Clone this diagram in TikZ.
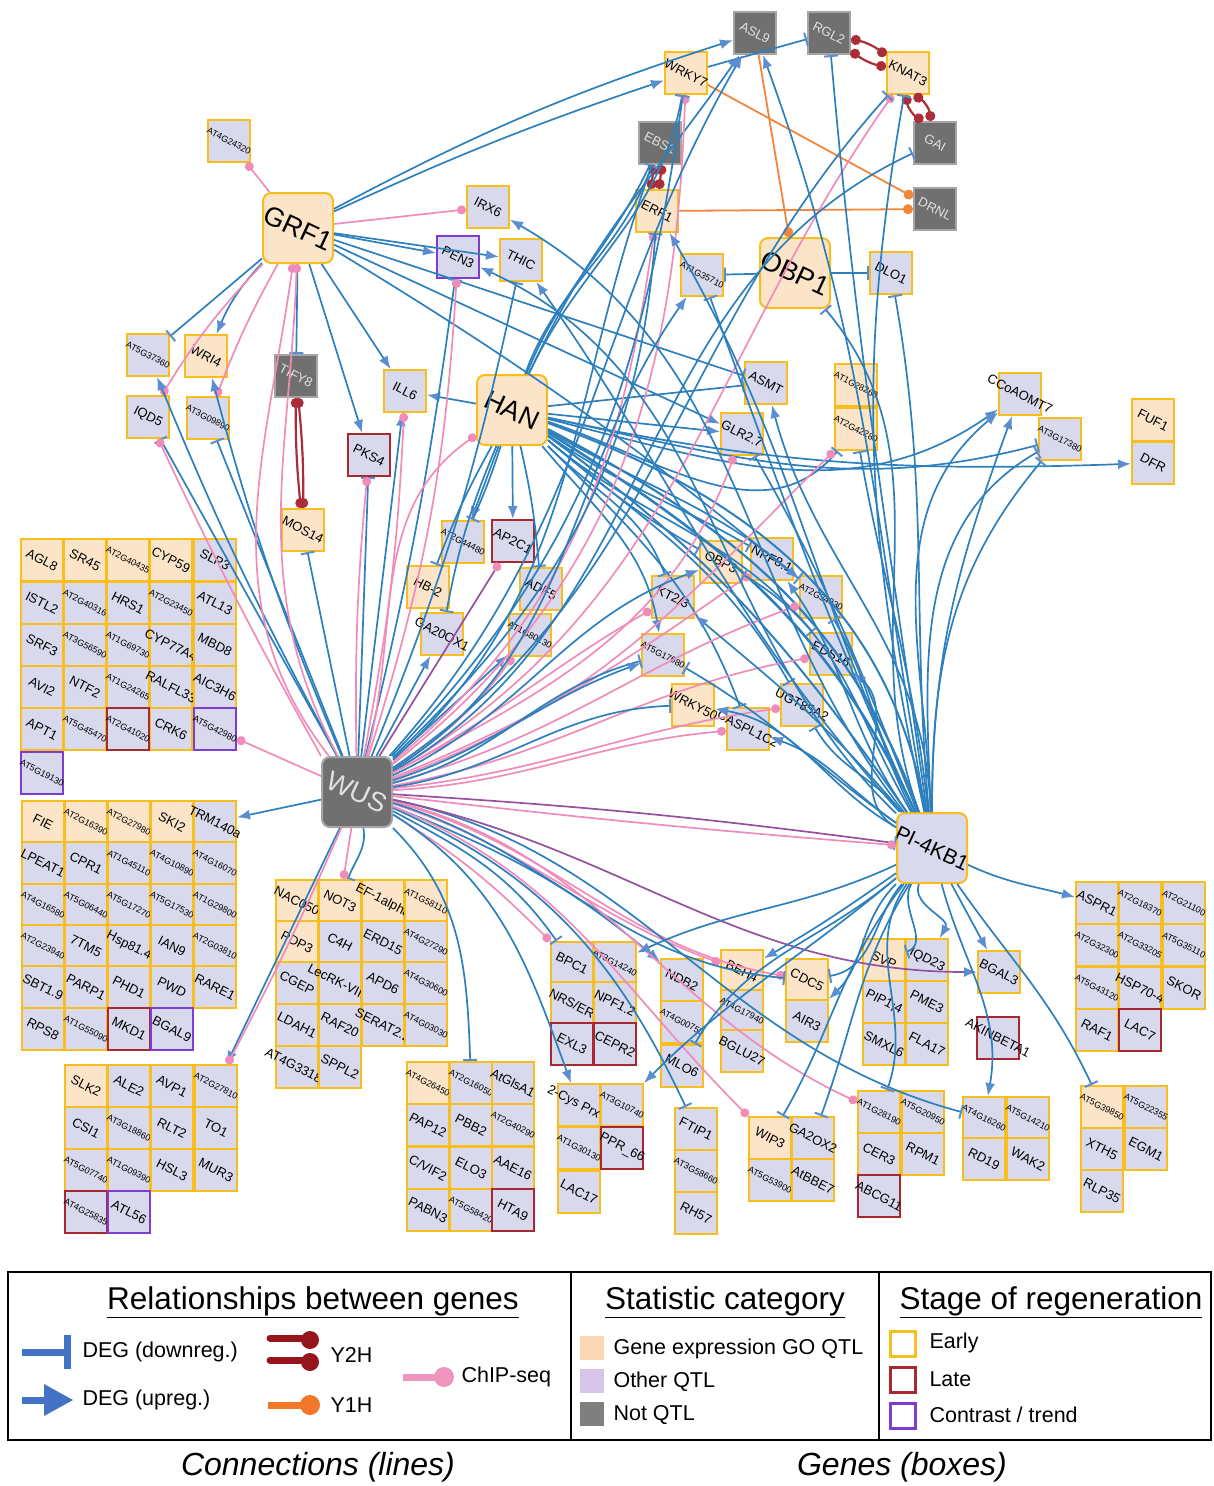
\documentclass[tikz,border=0pt]{standalone}
\usepackage{fontspec}
\setmainfont{Liberation Sans}
\usetikzlibrary{arrows.meta}
\definecolor{pch}{RGB}{252,228,200}
\definecolor{lav}{RGB}{216,217,236}
\definecolor{gld}{RGB}{248,190,30}
\definecolor{rdb}{RGB}{168,40,50}
\definecolor{vio}{RGB}{125,60,210}
\definecolor{gyf}{RGB}{112,112,112}
\definecolor{gyb}{RGB}{165,165,165}
\definecolor{gyt}{RGB}{225,225,225}
\definecolor{ebl}{RGB}{45,128,188}
\definecolor{abl}{RGB}{90,142,208}
\definecolor{pnk}{RGB}{240,140,185}
\definecolor{y2c}{RGB}{170,45,55}
\definecolor{y1c}{RGB}{242,135,60}
\definecolor{prp}{RGB}{150,80,160}
\definecolor{lgbl}{RGB}{68,114,196}
\definecolor{lgrd}{RGB}{150,20,28}
\definecolor{lgor}{RGB}{240,120,40}
\definecolor{lgpk}{RGB}{240,150,190}
\definecolor{lgpc}{RGB}{250,215,180}
\definecolor{lglv}{RGB}{213,197,234}
\definecolor{lggy}{RGB}{127,127,127}
\tikzset{
  gbox/.style={draw=gld, line width=2pt, minimum size=42pt, inner sep=0pt},
  lv/.style={gbox, fill=lav},
  pc/.style={gbox, fill=pch},
  gy/.style={gbox, fill=gyf, draw=gyb},
  lvr/.style={lv, draw=rdb},
  lvv/.style={lv, draw=vio},
  bignode/.style={draw=gld, line width=2pt, minimum size=70pt, rounded corners=8pt, inner sep=0pt},
  nm/.style={rotate=-27, font=\fontsize{13}{13}\selectfont, inner sep=0pt},
  atc/.style={rotate=-27, font=\fontsize{9}{9}\selectfont, inner sep=0pt},
  bigt/.style={rotate=-25, font=\fontsize{27}{27}\selectfont, inner sep=0pt},
  eb/.style={line width=1.7pt, draw=ebl},
  eup/.style={eb, -{Latex[length=13pt,width=10pt,color=abl]}},
  edn/.style={eb, -{Bar[width=14pt,line width=2pt,color=abl]}},
  echip/.style={line width=1.7pt, draw=pnk, -{Circle[length=9pt]}},
  eprp/.style={line width=1.7pt, draw=prp, -{Circle[length=9pt,color=pnk]}},
  ey2h/.style={line width=2.2pt, draw=y2c, {Circle[length=10pt]}-{Circle[length=10pt]}},
  ey1h/.style={line width=1.8pt, draw=y1c, -{Circle[length=10pt]}},
  lgt/.style={anchor=west, font=\fontsize{21.5}{21.5}\selectfont},
  lgh/.style={font=\fontsize{31.5}{31.5}\selectfont},
}
\newcommand\gn[5]{\node[#4] (#1) at (#2,#3) {}; \node[nm] at (#1) {#5};}
\newcommand\ga[5]{\node[#4] (#1) at (#2,#3) {}; \node[atc] at (#1) {#5};}
\newcommand\gw[4]{\node[gy] (#1) at (#2,#3) {}; \node[nm,text=gyt] at (#1) {#4};}
\begin{document}
\begin{tikzpicture}[x=1pt,y=-1pt]
\useasboundingbox (0,0) rectangle (1213,1486);
% ---------- big nodes
\node[bignode, fill=pch] (GRF1) at (298,228) {}; \node[bigt] at (GRF1) {GRF1};
\node[bignode, fill=pch] (OBP1) at (795,273) {}; \node[bigt] at (OBP1) {OBP1};
\node[bignode, fill=pch] (HAN) at (512,410) {}; \node[bigt] at (HAN) {HAN};
\node[bignode, fill=gyf, draw=gyb] (WUS) at (357,792) {}; \node[bigt,text=gyt] at (WUS) {WUS};
\node[bignode, fill=lav] (PI4KB1) at (932,848) {}; \node[bigt,font=\fontsize{21}{21}\selectfont] at (PI4KB1) {PI-4KB1};
% ---------- single nodes
\ga{AT4G24320}{229}{141}{lv}{AT4G24320}
\gw{ASL9}{755}{33}{ASL9}
\gw{RGL2}{829}{33}{RGL2}
\gn{WRKY7}{686}{73}{pc}{WRKY7}
\gn{KNAT3}{908}{73}{pc}{KNAT3}
\gw{EBS1}{660}{143}{EBS1}
\gw{GAI}{935}{143}{GAI}
\gn{ERF1}{657}{211}{pc}{ERF1}
\gw{DRNL}{935}{209}{DRNL}
\gn{IRX6}{488}{207}{lv}{IRX6}
\gn{PEN3}{458}{257}{lvv}{PEN3}
\gn{THIC}{521}{260}{lv}{THIC}
\ga{AT1G35710}{702}{275}{lv}{AT1G35710}
\gn{DLO1}{891}{273}{lv}{DLO1}
\ga{AT5G37360}{148}{355}{lv}{AT5G37360}
\gn{WRI4}{206}{356}{pc}{WRI4}
\gw{TIFY8}{296}{376}{TIFY8}
\gn{ILL6}{405}{391}{lv}{ILL6}
\gn{ASMT}{766}{383}{lv}{ASMT}
\ga{AT1G28260}{856}{385}{pc}{AT1G28260}
\ga{AT2G42280}{856}{429}{pc}{AT2G42280}
\gn{CCoAOMT7}{1020}{394}{lv}{CCoAOMT7}
\ga{AT3G17380}{1060}{439}{lv}{AT3G17380}
\gn{FUF1}{1153}{420}{pc}{FUF1}
\gn{DFR}{1153}{463}{lv}{DFR}
\gn{IQD5}{148}{417}{lv}{IQD5}
\ga{AT3G09890}{208}{418}{lv}{AT3G09890}
\gn{PKS4}{369}{455}{lvr}{PKS4}
\gn{GLR27}{742}{434}{lv}{GLR2.7}
\gn{MOS14}{303}{530}{pc}{MOS14}
\ga{AT2G44480}{463}{542}{lv}{AT2G44480}
\gn{AP2C1}{513}{541}{lvr}{AP2C1}
\gn{HBtwo}{428}{587}{pc}{HB-2}
\gn{ADF5}{541}{589}{lv}{ADF5}
\gn{GA20OX1}{442}{634}{lv}{GA20OX1}
\ga{AT1G80130}{530}{635}{lv}{AT1G80130}
\gn{OBP3}{721}{562}{pc}{OBP3}
\gn{NPF81}{772}{559}{lv}{NPF8.1}
\ga{AT2G34930}{821}{597}{lv}{AT2G34930}
\gn{KT23}{673}{597}{lv}{KT2/3}
\gn{EDS16}{831}{654}{lv}{EDS16}
\ga{AT5G17680}{663}{655}{lv}{AT5G17680}
\gn{WRKY50}{693}{705}{pc}{WRKY50}
\gn{UGT85A2}{802}{705}{lv}{UGT85A2}
\gn{CASPL1C2}{748}{729}{lv}{CASPL1C2}
\gn{BGAL3}{999}{972}{lv}{BGAL3}
\gn{AKINBETA1}{998}{1038}{lvr}{AKINBETA1}
% ---------- grid 1
\gn{AGL8}{42}{560}{pc}{AGL8}
\gn{SR45}{85}{560}{pc}{SR45}
\ga{AT2G40435}{128}{560}{pc}{AT2G40435}
\gn{CYP59}{171}{560}{pc}{CYP59}
\gn{SLP3}{215}{560}{lv}{SLP3}
\gn{ISTL2}{42}{603}{lv}{ISTL2}
\ga{AT2G40316}{85}{603}{lv}{AT2G40316}
\gn{HRS1}{128}{603}{lv}{HRS1}
\ga{AT2G23450}{171}{603}{lv}{AT2G23450}
\gn{ATL13}{215}{603}{lv}{ATL13}
\gn{SRF3}{42}{645}{lv}{SRF3}
\ga{AT3G56590}{85}{645}{lv}{AT3G56590}
\ga{AT1G69730}{128}{645}{lv}{AT1G69730}
\gn{CYP77A4}{171}{645}{lv}{CYP77A4}
\gn{MBD8}{215}{645}{lv}{MBD8}
\gn{AVI2}{42}{687}{lv}{AVI2}
\gn{NTF2}{85}{687}{lv}{NTF2}
\ga{AT1G24265}{128}{687}{lv}{AT1G24265}
\gn{RALFL33}{171}{687}{lv}{RALFL33}
\gn{AIC3H6}{215}{687}{lv}{AIC3H6}
\gn{APT1}{42}{729}{lv}{APT1}
\ga{AT5G45470}{85}{729}{lv}{AT5G45470}
\gn{CRK6}{171}{729}{lv}{CRK6}
\ga{AT2G41020}{128}{729}{lvr}{AT2G41020}
\ga{AT5G42980}{215}{729}{lvv}{AT5G42980}
\ga{AT5G19130}{42}{773}{lvv}{AT5G19130}
% ---------- grid 2
\gn{FIE}{43}{822}{pc}{FIE}
\ga{AT2G16390}{86}{822}{pc}{AT2G16390}
\ga{AT2G27980}{129}{822}{pc}{AT2G27980}
\gn{SKI2}{172}{822}{pc}{SKI2}
\gn{TRM140a}{215}{822}{lv}{TRM140a}
\gn{LPEAT1}{43}{863}{lv}{LPEAT1}
\gn{CPR1}{86}{863}{lv}{CPR1}
\ga{AT1G45110}{129}{863}{lv}{AT1G45110}
\ga{AT4G10890}{172}{863}{lv}{AT4G10890}
\ga{AT4G16070}{215}{863}{lv}{AT4G16070}
\ga{AT4G16580}{43}{905}{lv}{AT4G16580}
\ga{AT5G06440}{86}{905}{lv}{AT5G06440}
\ga{AT5G17270}{129}{905}{lv}{AT5G17270}
\ga{AT5G17530}{172}{905}{lv}{AT5G17530}
\ga{AT1G29800}{215}{905}{lv}{AT1G29800}
\ga{AT2G23940}{43}{946}{lv}{AT2G23940}
\gn{TM5}{86}{946}{lv}{7TM5}
\gn{Hsp814}{129}{946}{lv}{Hsp81.4}
\gn{IAN9}{172}{946}{lv}{IAN9}
\ga{AT2G03810}{215}{946}{lv}{AT2G03810}
\gn{SBT19}{43}{987}{lv}{SBT1.9}
\gn{PARP1}{86}{987}{lv}{PARP1}
\gn{PHD1}{129}{987}{lv}{PHD1}
\gn{PWD}{172}{987}{lv}{PWD}
\gn{RARE1}{215}{987}{lv}{RARE1}
\gn{RPS8}{43}{1029}{lv}{RPS8}
\ga{AT1G55090}{86}{1029}{lv}{AT1G55090}
\gn{MKD1}{129}{1029}{lvr}{MKD1}
\gn{BGAL9}{172}{1029}{lvv}{BGAL9}
% ---------- grid 3
\gn{SLK2}{86}{1086}{pc}{SLK2}
\gn{ALE2}{129}{1086}{lv}{ALE2}
\gn{AVP1}{172}{1086}{lv}{AVP1}
\ga{AT2G27810}{216}{1086}{lv}{AT2G27810}
\gn{CSI1}{86}{1128}{lv}{CSI1}
\ga{AT3G18860}{129}{1128}{lv}{AT3G18860}
\gn{RLT2}{172}{1128}{lv}{RLT2}
\gn{TO1}{216}{1128}{lv}{TO1}
\ga{AT5G07740}{86}{1170}{lv}{AT5G07740}
\ga{AT1G09390}{129}{1170}{lv}{AT1G09390}
\gn{HSL3}{172}{1170}{lv}{HSL3}
\gn{MUR3}{216}{1170}{lv}{MUR3}
\ga{AT4G25835}{86}{1212}{lvr}{AT4G25835}
\gn{ATL56}{129}{1212}{lvv}{ATL56}
% ---------- grid 4
\gn{NAC050}{297}{901}{pc}{NAC050}
\gn{NOT3}{340}{901}{pc}{NOT3}
\gn{EF1alpha}{383}{901}{pc}{EF-1alpha}
\ga{AT1G58110}{426}{901}{pc}{AT1G58110}
\gn{PDP3}{297}{942}{pc}{PDP3}
\gn{C4H}{340}{942}{lv}{C4H}
\gn{ERD15}{383}{942}{lv}{ERD15}
\ga{AT4G27290}{426}{942}{lv}{AT4G27290}
\gn{CGEP}{297}{983}{lv}{CGEP}
\gn{LecRK}{340}{983}{lv}{LecRK-VII.1}
\gn{APD6}{383}{983}{lv}{APD6}
\ga{AT4G30600}{426}{983}{lv}{AT4G30600}
\gn{LDAH1}{297}{1025}{lv}{LDAH1}
\gn{RAF20}{340}{1025}{lv}{RAF20}
\gn{SERAT22}{383}{1025}{lv}{SERAT2.2}
\ga{AT4G03030}{426}{1025}{lv}{AT4G03030}
\gn{AT4G33180}{297}{1067}{lv}{AT4G33180}
\gn{SPPL2}{340}{1067}{lv}{SPPL2}
% ---------- grid 5
\ga{AT4G26450}{428}{1083}{pc}{AT4G26450}
\ga{AT2G16050}{471}{1083}{lv}{AT2G16050}
\gn{AtGlsA1}{513}{1083}{lv}{AtGlsA1}
\gn{PAP12}{428}{1125}{lv}{PAP12}
\gn{PBB2}{471}{1125}{lv}{PBB2}
\ga{AT2G40290}{513}{1125}{lv}{AT2G40290}
\gn{CVIF2}{428}{1168}{lv}{C/VIF2}
\gn{ELO3}{471}{1168}{lv}{ELO3}
\gn{AAE16}{513}{1168}{lv}{AAE16}
\gn{PABN3}{428}{1210}{lv}{PABN3}
\ga{AT5G58420}{471}{1210}{lv}{AT5G58420}
\gn{HTA9}{513}{1210}{lvr}{HTA9}
% ---------- grid 6 / 7
\gn{BPC1}{572}{963}{lv}{BPC1}
\ga{AT3G14240}{615}{963}{lv}{AT3G14240}
\gn{NRSER}{572}{1003}{lv}{NRS/ER}
\gn{NPF12}{615}{1003}{lv}{NPF1.2}
\gn{EXL3}{572}{1044}{lvr}{EXL3}
\gn{CEPR2}{615}{1044}{lvr}{CEPR2}
\gn{TwoCys}{579}{1105}{lv}{2-Cys Prx B}
\ga{AT3G10740}{622}{1105}{lv}{AT3G10740}
\ga{AT1G30130}{579}{1148}{lv}{AT1G30130}
\gn{PPR66}{622}{1148}{lvr}{PPR\_66}
\gn{LAC17}{579}{1192}{lv}{LAC17}
% ---------- columns
\gn{NDB2}{682}{980}{lv}{NDB2}
\ga{AT4G00750}{682}{1022}{lv}{AT4G00750}
\gn{MLO6}{682}{1066}{lv}{MLO6}
\gn{BEH4}{742}{971}{pc}{BEH4}
\ga{AT4G17940}{742}{1011}{lv}{AT4G17940}
\gn{BGLU27}{742}{1051}{lv}{BGLU27}
\gn{CDC5}{807}{980}{pc}{CDC5}
\gn{AIR3}{807}{1021}{lv}{AIR3}
\gn{FTIP1}{696}{1129}{lv}{FTIP1}
\ga{AT3G58660}{696}{1171}{lv}{AT3G58660}
\gn{RH57}{696}{1213}{lv}{RH57}
\gn{WIP3}{770}{1138}{pc}{WIP3}
\gn{GA2OX2}{813}{1138}{lv}{GA2OX2}
\ga{AT5G53900}{770}{1180}{lv}{AT5G53900}
\gn{AtBBE7}{813}{1180}{lv}{AtBBE7}
\gn{SVP}{884}{960}{pc}{SVP}
\gn{IQD23}{927}{960}{lv}{IQD23}
\gn{PIP14}{884}{1002}{lv}{PIP1;4}
\gn{PME3}{927}{1002}{lv}{PME3}
\gn{SMXL6}{884}{1044}{lv}{SMXL6}
\gn{FLA17}{927}{1044}{lv}{FLA17}
\ga{AT1G28190}{879}{1112}{lv}{AT1G28190}
\ga{AT5G20950}{923}{1112}{lv}{AT5G20950}
\gn{CER3}{879}{1154}{lv}{CER3}
\gn{RPM1}{923}{1154}{lv}{RPM1}
\gn{ABCG11}{879}{1196}{lvr}{ABCG11}
\ga{AT4G16260}{984}{1118}{lv}{AT4G16260}
\ga{AT5G14210}{1028}{1118}{lv}{AT5G14210}
\gn{RD19}{984}{1159}{lv}{RD19}
\gn{WAK2}{1028}{1159}{lv}{WAK2}
\gn{ASPR1}{1097}{903}{lv}{ASPR1}
\ga{AT2G18370}{1140}{903}{lv}{AT2G18370}
\ga{AT2G21100}{1184}{903}{lv}{AT2G21100}
\ga{AT2G32300}{1097}{945}{lv}{AT2G32300}
\ga{AT2G33205}{1140}{945}{lv}{AT2G33205}
\ga{AT5G35110}{1184}{945}{lv}{AT5G35110}
\ga{AT5G43120}{1097}{988}{lv}{AT5G43120}
\gn{HSP704}{1140}{988}{lv}{HSP70-4}
\gn{SKOR}{1184}{988}{lv}{SKOR}
\gn{RAF1}{1097}{1030}{lv}{RAF1}
\gn{LAC7}{1140}{1030}{lvr}{LAC7}
\ga{AT5G39850}{1102}{1107}{pc}{AT5G39850}
\ga{AT5G22355}{1146}{1107}{lv}{AT5G22355}
\gn{XTH5}{1102}{1149}{lv}{XTH5}
\gn{EGM1}{1146}{1149}{lv}{EGM1}
\gn{RLP35}{1102}{1191}{lv}{RLP35}
% ================= EDGES
% GRF1
\draw[echip] (GRF1) -- (AT4G24320);
\draw[eup] (GRF1) to[bend left=3] (WRKY7);
\draw[eup] (GRF1) to[bend left=5] (ASL9);
\draw[echip] (GRF1) -- (IRX6);
\draw[eup] (GRF1) -- (PEN3);
\draw[eup] (GRF1) -- (THIC);
\draw[eup] (GRF1) -- (ILL6);
\draw[eup] (GRF1) -- (PKS4);
\draw[edn] (GRF1) -- (TIFY8);
\draw[eup] (GRF1) to[bend right=10] (WRI4);
\draw[edn] (GRF1) -- (AT5G37360);
\draw[echip] (GRF1) to[bend right=6] (IQD5);
\draw[echip] (GRF1) to[bend right=4] (AT3G09890);
\draw[edn] (GRF1) -- (ASMT);
\draw[eup] (GRF1) -- (GLR27);
\draw[edn] (GRF1) to[bend left=4] (AT2G34930);
% Y2H / Y1H
\draw[ey2h] (RGL2) to[bend left=12] (KNAT3);
\draw[ey2h] (RGL2) to[bend right=12] (KNAT3);
\draw[ey2h] ([xshift=-2pt]KNAT3.south) to[bend right=25] ([xshift=-12pt]GAI.north);
\draw[ey2h] ([xshift=6pt]KNAT3.south) to[bend left=25] ([xshift=-4pt]GAI.north);
\draw[ey2h] ([xshift=-6pt]EBS1.south) -- ([xshift=-6pt]ERF1.north);
\draw[ey2h] ([xshift=2pt]EBS1.south) -- ([xshift=2pt]ERF1.north);
\draw[ey2h] (TIFY8) to[bend left=3] (MOS14);
\draw[ey2h] (TIFY8) to[bend right=3] (MOS14);
\draw[ey1h] (ASL9) -- (OBP1);
\draw[ey1h] (WRKY7) -- (DRNL);
\draw[ey1h] (ERF1) -- (DRNL);
% OBP1 / WRKY7
\draw[edn] (OBP1) -- (AT1G35710);
\draw[edn] (OBP1) -- (DLO1);
\draw[edn] (WRKY7) -- (RGL2);
% HAN
\draw[eup] (HAN) -- (ILL6);
\draw[edn] (HAN) -- (ASMT);
\draw[eup] (HAN) -- (GLR27);
\draw[eup] (HAN) -- (AT2G44480);
\draw[eup] (HAN) -- (AP2C1);
\draw[edn] (HAN) to[bend left=4] (ADF5);
\draw[edn] (HAN) to[bend right=4] (HBtwo);
\draw[edn] (HAN) to[bend right=6] (GA20OX1);
\draw[edn] (HAN) to[bend left=3] (AT2G44480);
\draw[eup] (HAN) to[out=-12,in=182] (DFR);
\draw[eup] (HAN) to[out=-14,in=215] (CCoAOMT7);
\draw[edn] (HAN) to[out=-12,in=195] (AT3G17380);
\draw[edn] (HAN) to[out=-18,in=230] (AT2G42280);
\draw[eup] (HAN) to[out=65,in=235] (ASL9);
\draw[edn] (HAN) to[out=65,in=260] (WRKY7);
\draw[edn] (HAN) to[out=70,in=250] (EBS1);
\draw[eb] (HAN) to[out=68,in=245] (EBS1);
\draw[eb,line width=2.6pt] (HAN) to[out=-32,in=115] (PI4KB1);
\draw[eb,line width=2.2pt] (HAN) to[out=-28,in=110] (PI4KB1);
\draw[eb,line width=2pt] (HAN) to[out=-36,in=125] (PI4KB1);
\draw[eb,line width=2pt] (HAN) to[out=-20,in=100] (PI4KB1);
\draw[edn] (HAN) to[out=-40,in=150] (OBP3);
\draw[edn] (HAN) to[out=-35,in=150] (NPF81);
\draw[eup] (HAN) to[out=-30,in=140] (AT2G34930);
\draw[edn] (HAN) to[out=-40,in=130] (EDS16);
\draw[edn] (HAN) to[out=-45,in=110] (KT23);
\draw[edn] (HAN) to[out=-40,in=120] (UGT85A2);
\draw[eup] (HAN) to[out=-50,in=100] (AT5G17680);
\draw[edn] (HAN) to[out=-45,in=110] (CASPL1C2);
% WUS up-left
\draw[edn] (WUS) -- (IQD5);
\draw[echip] (WUS.north west) to[bend left=2] (IQD5);
\draw[eup] (WUS) to[bend left=3] (AT5G37360);
\draw[edn] (WUS) -- (AT3G09890);
\draw[eup] (WUS) to[bend left=4] (WRI4);
\draw[echip] (WUS) to[out=128,in=262] (GRF1);
\draw[echip] (WUS) to[out=118,in=268] (GRF1);
\draw[edn] (WUS) -- (MOS14);
\draw[edn] (WUS) -- (PKS4);
\draw[echip] (WUS) to[bend left=3] (PKS4);
\draw[eup] (WUS) -- (ILL6);
\draw[echip] (WUS) to[bend right=4] (ILL6);
\draw[edn] (WUS) to[bend right=3] (PEN3);
\draw[echip] (WUS) to[bend right=7] (PEN3);
\draw[edn] (WUS) to[bend right=5] (THIC);
\draw[echip] (WUS) to[out=75,in=215] (HAN);
\draw[eup] (WUS) -- (GA20OX1);
\draw[eprp] (WUS) -- (AP2C1);
\draw[eup] (WUS) -- (AT1G80130);
\draw[echip] (WUS) to[bend right=10] (AT1G80130);
% WUS up-right long
\draw[echip] (WUS) to[out=40,in=262] (ERF1);
\draw[edn] (WUS) to[out=44,in=266] (ERF1);
\draw[eb] (WUS) to[out=42,in=250] (EBS1);
\draw[echip] (WUS) to[out=38,in=268] (WRKY7);
\draw[edn] (WUS) to[out=46,in=262] (WRKY7);
\draw[eup] (WUS) to[out=48,in=240] (ASL9);
\draw[echip] (WUS) to[out=30,in=235] (KNAT3);
\draw[edn] (WUS) to[out=34,in=228] (KNAT3);
\draw[edn] (WUS) to[out=30,in=205] (GAI);
\draw[eup] (WUS) to[out=32,in=235] (AT1G35710);
\draw[echip] (WUS) to[out=28,in=250] (GLR27);
\draw[echip] (WUS) to[out=20,in=225] (AT2G42280);
\draw[echip] (WUS) to[out=28,in=210] (KT23);
\draw[eup] (WUS) to[out=25,in=200] (OBP3);
\draw[echip] (WUS) to[out=22,in=215] (NPF81);
\draw[echip] (WUS) to[out=15,in=200] (AT2G34930);
\draw[echip] (WUS) to[out=10,in=190] (EDS16);
\draw[echip] (WUS) to[out=6,in=188] (UGT85A2);
\draw[echip] (WUS) to[out=3,in=185] (CASPL1C2);
\draw[edn] (WUS) to[out=8,in=182] (WRKY50);
\draw[edn] (WUS) to[out=14,in=195] (AT5G17680);
\draw[eup] (WUS) to[out=18,in=200] (AT5G17680);
\draw[edn,draw=prp] (WUS) to[bend left=2] (PI4KB1);
\draw[echip] (WUS) to[bend right=1] (PI4KB1);
% WUS down
\draw[eup] (WUS) -- (TRM140a);
\draw[echip] (WUS) -- (AT5G42980);
\draw[eup] (WUS) -- (AT2G27810);
\draw[echip] (WUS) to[bend left=2] (AT2G27810);
\draw[edn] (WUS) to[out=-80,in=70] (NOT3);
\draw[echip] (WUS) -- (NOT3);
\draw[edn] (WUS) to[out=-45,in=92] (AT2G16050);
\draw[edn] (WUS) to[out=-28,in=125] (BPC1);
\draw[echip] (WUS) to[out=-32,in=135] (BPC1);
\draw[eup] (WUS) to[out=-32,in=110] (TwoCys);
\draw[eup] (WUS) to[out=-22,in=140] (NDB2);
\draw[edn] (WUS) to[out=-24,in=115] (FTIP1);
\draw[echip] (WUS) to[out=-22,in=135] (WIP3);
\draw[echip] (WUS) to[out=-18,in=160] (BEH4);
\draw[echip] (WUS) to[out=-15,in=170] (CDC5);
\draw[edn] (WUS) to[out=-17,in=175] (CDC5);
\draw[echip] (WUS) to[out=-14,in=155] (AT1G28190);
\draw[edn] (WUS) to[out=-12,in=165] (AT4G16260);
\draw[eup,draw=prp] (WUS) to[out=-12,in=180] (BGAL3);
% PI4KB1 up
\draw[eup] (PI4KB1) to[out=100,in=-70] (ASL9);
\draw[edn] (PI4KB1) to[out=98,in=-85] (RGL2);
\draw[edn] (PI4KB1) to[out=102,in=-100] (KNAT3);
\draw[edn] (PI4KB1) to[out=95,in=-80] (DLO1);
\draw[edn] (PI4KB1) to[out=110,in=-50] (OBP1);
\draw[edn] (PI4KB1) to[out=115,in=-70] (AT1G35710);
\draw[eup] (PI4KB1) to[out=115,in=-60] (ERF1);
\draw[eup] (PI4KB1) to[out=92,in=-75] (ASMT);
\draw[edn] (PI4KB1) to[out=112,in=-60] (GLR27);
\draw[edn] (PI4KB1) to[out=96,in=-80] (AT2G42280);
\draw[eup] (PI4KB1) to[out=90,in=-110] (CCoAOMT7);
\draw[eup] (PI4KB1) to[out=92,in=-140] (CCoAOMT7);
\draw[edn] (PI4KB1) to[out=90,in=-130] (AT3G17380);
\draw[edn] (PI4KB1) to[out=92,in=-150] (AT3G17380);
\draw[eup] (PI4KB1) to[out=150,in=-40] (EDS16);
\draw[eup] (PI4KB1) to[out=145,in=-20] (CASPL1C2);
\draw[edn] (PI4KB1) to[out=130,in=-60] (UGT85A2);
\draw[edn] (PI4KB1) to[out=145,in=-30] (AT5G17680);
\draw[eup] (PI4KB1) to[out=150,in=-10] (WRKY50);
\draw[eup] (PI4KB1) to[out=130,in=-40] (KT23);
\draw[edn] (PI4KB1) to[out=120,in=-30] (OBP3);
\draw[edn] (PI4KB1) to[out=118,in=-60] (AT2G34930);
\draw[eup] (PI4KB1) to[out=125,in=-55] (NPF81);
\draw[eup] (PI4KB1) to[out=128,in=-30] (IRX6);
\draw[eup] (PI4KB1) to[out=132,in=-55] (THIC);
\draw[eup] (PI4KB1) to[out=136,in=-25] (PEN3);
% PI4KB1 down
\draw[eup] (PI4KB1) to[out=-25,in=165] (ASPR1);
\draw[eup] (PI4KB1) -- (BGAL3);
\draw[eup] (PI4KB1) to[out=-75,in=80] (AT4G16260);
\draw[edn] (PI4KB1) to[out=-55,in=115] (AT5G39850);
\draw[eup] (PI4KB1) to[out=-110,in=60] (IQD23);
\draw[edn] (PI4KB1) to[out=-130,in=10] (CDC5);
\draw[edn] (PI4KB1) to[out=-125,in=70] (AT1G28190);
\draw[edn] (PI4KB1) to[out=-122,in=70] (GA2OX2);
\draw[edn] (PI4KB1) to[out=-128,in=60] (WIP3);
\draw[eup] (PI4KB1) to[out=-140,in=45] (AT3G10740);
\draw[eup] (PI4KB1) to[out=-155,in=25] (AT3G14240);
\draw[eup] (PI4KB1) to[out=-145,in=30] (BEH4);
\draw[eup] (PI4KB1) to[out=-135,in=45] (AIR3);
\draw[edn] (PI4KB1) to[out=-140,in=60] (MLO6);
\draw[edn] (PI4KB1) to[out=-120,in=20] (SVP);
% ================= LEGEND
\draw[line width=1.5pt] (8,1272) rectangle (1211,1440);
\draw[line width=1.2pt] (571,1272) -- (571,1440);
\draw[line width=1.2pt] (879,1272) -- (879,1440);
\node[lgh] (lt1) at (313,1302) {\underline{Relationships between genes}};
\node[lgh] (lt2) at (725,1302) {\underline{Statistic category}};
\node[lgh] (lt3) at (1051,1302) {\underline{Stage of regeneration}};
% symbols
\draw[draw=lgbl, line width=7pt] (22,1352) -- (67,1352);
\draw[draw=lgbl, line width=7pt] (67,1335) -- (67,1369);
\node[lgt] (ld1) at (79,1352) {DEG (downreg.)};
\draw[draw=lgbl, line width=7pt] (22,1400) -- (48,1400);
\fill[lgbl] (44,1384) -- (73,1400) -- (44,1416) -- cycle;
\node[lgt] (ld2) at (79,1400) {DEG (upreg.)};
\draw[draw=lgrd, line width=7pt, line cap=round] (270,1338) -- (306,1338);
\fill[lgrd] (310,1340) circle (9);
\draw[draw=lgrd, line width=7pt, line cap=round] (270,1360) -- (306,1360);
\fill[lgrd] (310,1362) circle (9);
\node[lgt] (ld3) at (327,1355) {Y2H};
\draw[draw=lgor, line width=7pt] (268,1405) -- (306,1405);
\fill[lgor] (310,1405) circle (10);
\node[lgt] (ld4) at (327,1405) {Y1H};
\draw[draw=lgpk, line width=7pt] (403,1377) -- (440,1377);
\fill[lgpk] (444,1377) circle (10);
\node[lgt] (ld5) at (458,1377) {ChIP-seq};
\fill[lgpc] (580,1336) rectangle (604,1360);
\fill[lglv] (580,1369) rectangle (604,1393);
\fill[lggy] (580,1402) rectangle (604,1426);
\node[lgt] (ls1) at (610,1349) {Gene expression GO QTL};
\node[lgt] (ls2) at (610,1382) {Other QTL};
\node[lgt] (ls3) at (610,1415) {Not QTL};
\draw[draw=gld, line width=3pt] (890,1331) rectangle (915,1356);
\draw[draw=rdb, line width=3pt] (890,1367) rectangle (915,1392);
\draw[draw=vio, line width=3pt] (890,1403) rectangle (915,1428);
\node[lgt] (lg1) at (926,1343) {Early};
\node[lgt] (lg2) at (926,1379) {Late};
\node[lgt] (lg3) at (926,1415) {Contrast / trend};
\node[font=\itshape\fontsize{32}{32}\selectfont] (cap1) at (318,1467) {Connections (lines)};
\node[font=\itshape\fontsize{32}{32}\selectfont] (cap2) at (902,1467) {Genes (boxes)};
\end{tikzpicture}
\end{document}
